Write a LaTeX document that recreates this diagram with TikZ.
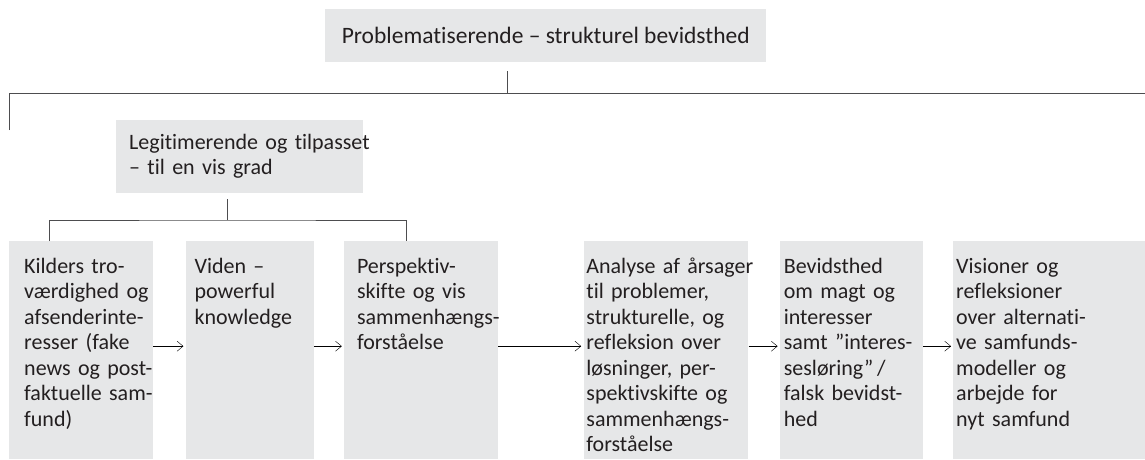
\documentclass[tikz,border=0pt]{standalone}
\usepackage{fontspec}
\setmainfont{Carlito}[Ligatures=NoCommon]
\usetikzlibrary{arrows.meta, positioning}

\definecolor{boxgray}{HTML}{E6E7E8}
\definecolor{inkgray}{HTML}{231F20}
\definecolor{linegray}{HTML}{4D4D4F}

% lines set as given, never rewrapped
\newcommand{\cellrows}[1]{\begin{tabular}[t]{@{}l@{}}#1\end{tabular}}

\begin{document}
\begin{tikzpicture}[
    x=1pt, y=-1pt,
    every node/.style={text=inkgray, font=\fontsize{22}{25.5}\selectfont},
    headbox/.style={fill=boxgray, anchor=north west, inner sep=0pt},
    cell/.style={fill=boxgray, inner ysep=0pt, align=left,
        text height=32pt, text depth=186pt},
    link/.style={draw=linegray, line width=1pt},
    >={Straight Barb[length=6pt, width=10pt]}
]
\useasboundingbox (0,0) rectangle (1145,459);

% top levels
\node[headbox, minimum width=441pt, minimum height=53pt,
    font=\fontsize{23.5}{27}\selectfont] (problem) at (325,9)
    {Problematiserende – strukturel bevidsthed};
\node[headbox, inner xsep=13pt, text width=221pt, align=left,
    minimum height=73pt] (legit) at (116,120)
    {\cellrows{Legitimerende og tilpasset\\– til en vis grad}};

% bottom row
\node[cell, anchor=north west, inner xsep=15pt, text width=114pt] (kilder) at (9,241)
    {\cellrows{Kilders tro-\\værdighed og\\afsenderinte-\\resser (fake\\news og post-\\faktuelle sam-\\fund)}};
\node[cell, inner xsep=9pt, text width=110pt, right=32pt of kilder] (viden)
    {\cellrows{Viden –\\powerful\\knowledge}};
\node[cell, inner xsep=13pt, text width=128pt, right=30pt of viden] (perspektiv)
    {\cellrows{Perspektiv-\\skifte og vis\\sammenhængs-\\forståelse}};
\node[cell, inner xsep=2pt, text width=160pt, right=86pt of perspektiv] (analyse)
    {\cellrows{Analyse af årsager\\til problemer,\\strukturelle, og\\refleksion over\\løsninger, per-\\spektivskifte og\\sammenhængs-\\forståelse}};
\node[cell, inner xsep=4pt, text width=135pt, right=31pt of analyse] (magt)
    {\cellrows{Bevidsthed\\om magt og\\interesser\\samt ”interes-\\sesløring”\,/\\falsk bevidst-\\hed}};
\node[cell, inner xsep=3pt, text width=188pt, right=30pt of magt] (visioner)
    {\cellrows{Visioner og\\refleksioner\\over alternati-\\ve samfunds-\\modeller og\\arbejde for\\nyt samfund}};

% tree lines
\coordinate (topjoin) at (507,93);
\coordinate (leftdrop) at (9,130);
\coordinate (rightend) at (1145,93);
\coordinate (legjoin) at (227,220);
\draw[link] ([yshift=-9pt]problem.south -| topjoin) -- (topjoin);
\draw[link] (leftdrop) |- (rightend);
\draw[link] ([yshift=-6pt]legit.south -| legjoin) -- (legjoin);
\draw[link] ([xshift=40pt]kilder.north west) |- (legjoin)
    -| ([xshift=63pt]perspektiv.north west);

% arrows
\draw[->, shorten >=2pt] ([yshift=4pt]kilder.east) -- ([yshift=4pt]viden.west);
\draw[->, shorten >=2pt] ([yshift=4pt]viden.east) -- ([yshift=4pt]perspektiv.west);
\draw[->, shorten >=3pt] ([yshift=4pt]perspektiv.east) -- ([yshift=4pt]analyse.west);
\draw[->, shorten >=2pt] ([yshift=4pt]analyse.east) -- ([yshift=4pt]magt.west);
\draw[->, shorten >=2pt] ([yshift=4pt]magt.east) -- ([yshift=4pt]visioner.west);

\end{tikzpicture}
\end{document}
